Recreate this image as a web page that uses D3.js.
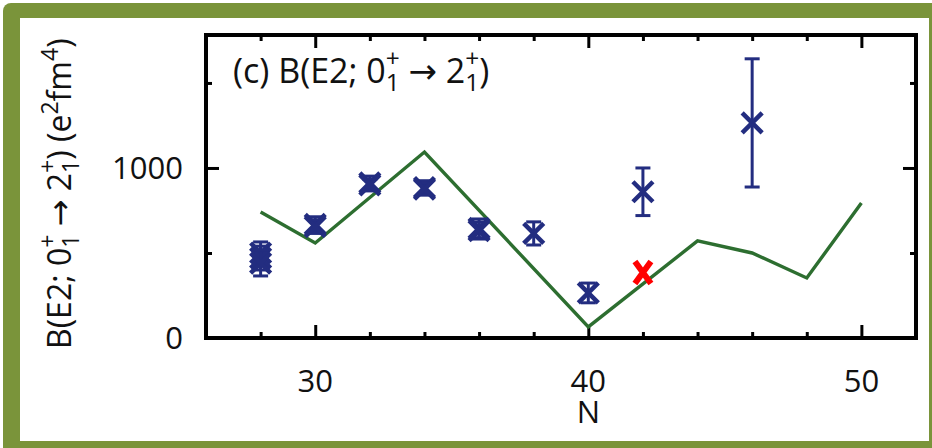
<!DOCTYPE html>
<html>
<head>
<meta charset="utf-8">
<script src="https://cdn.jsdelivr.net/npm/d3@7"></script>
<style>
  html, body { margin: 0; padding: 0; background: #ffffff; }
  svg { display: block; }
  text { font-family: "Open Sans", "Noto Sans", "DejaVu Sans", sans-serif; fill: #111; }
</style>
</head>
<body>
<svg id="fig" width="932" height="448"></svg>
<script>
// Experimental B(E2; 0+ -> 2+) values (e^2 fm^4) with uncertainties
const expN   = [28,  28,  28,  30,  30,  32,  32,  34,  34,  36,  36,  38,  40,  42,  46];
const expB   = [500, 470, 440, 668, 655, 912, 900, 885, 875, 645, 632, 615, 265, 860, 1265];
const expErr = [65,  70,  75,  45,  40,  40,  35,  40,  35,  55,  50,  68,  58,  140, 377];

// Shell-model curve
const thN = [28, 30, 34, 40, 44, 46, 48, 50];
const thB = [741, 559, 1094, 65, 571, 500, 353, 794];

// Predicted value marked with a red cross
const predN = [42];
const predB = [385];

// Axis ticks
const xMajor = [30, 40, 50];
const xMinor = [28, 32, 34, 36, 38, 42, 44, 46, 48];
const yMajor = [0, 1000];
const yMinor = [500, 1500];

const svg = d3.select("#fig");
const W = 932, H = 448;

// Page frame
svg.append("rect").attr("x", 3).attr("y", 3).attr("width", W + 20).attr("height", H + 20)
  .attr("rx", 8).attr("fill", "#7a943a");
svg.append("rect").attr("x", 20).attr("y", 18).attr("width", 909).attr("height", 423)
  .attr("fill", "#ffffff");

svg.append("clipPath").attr("id", "inner")
  .append("rect").attr("x", 20).attr("y", 18).attr("width", 909).attr("height", 423);

const root = svg.append("g").attr("clip-path", "url(#inner)");

const plot = { left: 206, right: 916, top: 35, bottom: 338 };
const x = d3.scaleLinear().domain([26, 52]).range([plot.left, plot.right]);
const y = d3.scaleLinear().domain([0, 1782]).range([plot.bottom, plot.top]);

const navy = "#232d80", green = "#2d6e30", red = "#ff0000";

// Axes: ticks drawn inward on all four sides
const majorLen = 13, minorLen = 6;
function axisPair(gen, scale, major, minor, transform) {
  const gMaj = root.append("g").attr("transform", transform)
    .call(gen(scale).tickValues(major).tickSize(-majorLen).tickFormat("").tickSizeOuter(0));
  const gMin = root.append("g").attr("transform", transform)
    .call(gen(scale).tickValues(minor).tickSize(-minorLen).tickFormat("").tickSizeOuter(0));
  [gMaj, gMin].forEach(g => {
    g.select(".domain").remove();
    g.selectAll(".tick line").attr("stroke", "#000").attr("stroke-width", 3);
  });
}
axisPair(d3.axisBottom, x, xMajor, xMinor, `translate(0,${plot.bottom})`);
axisPair(d3.axisTop, x, xMajor, xMinor, `translate(0,${plot.top})`);
axisPair(d3.axisLeft, y, yMajor, yMinor, `translate(${plot.left},0)`);
axisPair(d3.axisRight, y, yMajor, yMinor, `translate(${plot.right},0)`);

// Tick labels
root.append("g").selectAll("text").data(xMajor).join("text")
  .attr("x", d => x(d)).attr("y", 392)
  .attr("text-anchor", "middle").attr("font-size", 31).text(d => d);
root.append("g").selectAll("text").data(yMajor).join("text")
  .attr("x", 183).attr("y", d => y(d) + 11)
  .attr("text-anchor", "end").attr("font-size", 31).text(d => d);

// Axis title N
root.append("text").attr("x", x(40)).attr("y", 423)
  .attr("text-anchor", "middle").attr("font-size", 31).text("N");

// Rich text with stacked sub/superscripts
function rich(g, parts, fs) {
  const t = g.append("text").attr("font-size", fs);
  const s = fs * 0.72;
  let shift = 0;
  parts.forEach(p => {
    if (p.t !== undefined) {
      t.append("tspan").attr("dy", -shift).attr("font-size", fs).text(p.t);
      shift = 0;
    } else if (p.sup !== undefined && p.sub !== undefined) {
      const up = -fs * 0.46, down = fs * 0.24;
      const a = t.append("tspan").attr("dy", up - shift).attr("font-size", s).text(p.sup);
      const w = a.node().getComputedTextLength();
      t.append("tspan").attr("dx", -w).attr("dy", down - up).attr("font-size", s).text(p.sub);
      shift = down;
    } else if (p.sup !== undefined) {
      const up = -fs * 0.42;
      t.append("tspan").attr("dy", up - shift).attr("font-size", s).text(p.sup);
      shift = up;
    }
  });
  return t;
}

// Panel title
const title = root.append("g").attr("transform", "translate(233,83)");
rich(title, [{t: "(c) B(E2; 0"}, {sup: "+", sub: "1"}, {t: " \u2192 2"}, {sup: "+", sub: "1"}, {t: ")"}], 34);

// Y-axis title
const ylab = root.append("g").attr("transform", "translate(71,349) rotate(-90)");
rich(ylab, [{t: "B(E2; 0"}, {sup: "+", sub: "1"}, {t: " \u2192 2"}, {sup: "+", sub: "1"},
            {t: ") (e"}, {sup: "2"}, {t: "fm"}, {sup: "4"}, {t: ")"}], 32);

// Theory line
root.append("path")
  .datum(thN.map((n, i) => [n, thB[i]]))
  .attr("d", d3.line().x(d => x(d[0])).y(d => y(d[1])))
  .attr("fill", "none").attr("stroke", green).attr("stroke-width", 3.4)
  .attr("stroke-linejoin", "miter");

// Experimental points with error bars
const exp = expN.map((n, i) => ({ n, b: expB[i], e: expErr[i] }));
const pts = root.append("g").attr("stroke", navy).attr("fill", "none");
const cap = 7.5, arm = 10;
exp.forEach(d => {
  const cx = x(d.n), cy = y(d.b), y0 = y(d.b - d.e), y1 = y(d.b + d.e);
  const g = pts.append("g");
  g.append("line").attr("x1", cx).attr("x2", cx).attr("y1", y0).attr("y2", y1).attr("stroke-width", 3);
  g.append("line").attr("x1", cx - cap).attr("x2", cx + cap).attr("y1", y0).attr("y2", y0).attr("stroke-width", 3);
  g.append("line").attr("x1", cx - cap).attr("x2", cx + cap).attr("y1", y1).attr("y2", y1).attr("stroke-width", 3);
  g.append("path")
    .attr("d", `M${cx - arm},${cy - arm}L${cx + arm},${cy + arm}M${cx - arm},${cy + arm}L${cx + arm},${cy - arm}`)
    .attr("stroke-width", 4.5);
});

// Predicted value
predN.forEach((n, i) => {
  const cx = x(n), cy = y(predB[i]);
  root.append("path")
    .attr("d", `M${cx - 8},${cy - 11}L${cx + 8},${cy + 11}M${cx - 8},${cy + 11}L${cx + 8},${cy - 11}`)
    .attr("stroke", red).attr("stroke-width", 6).attr("fill", "none");
});

// Plot frame
root.append("rect")
  .attr("x", plot.left).attr("y", plot.top)
  .attr("width", plot.right - plot.left).attr("height", plot.bottom - plot.top)
  .attr("fill", "none").attr("stroke", "#000").attr("stroke-width", 4);
</script>
</body>
</html>
